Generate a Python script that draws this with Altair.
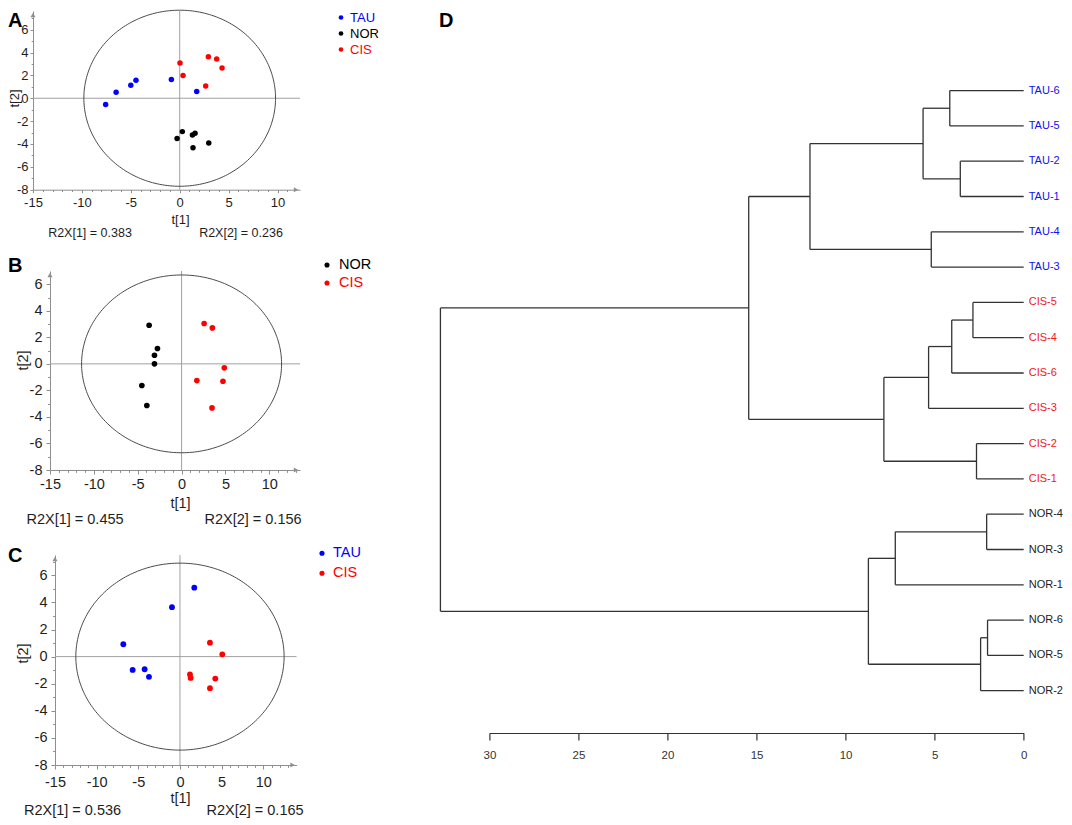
import altair as alt
import numpy as np
import pandas as pd

FONT = "Liberation Sans"
BLUE = "#0000ff"
RED = "#ff0000"
BLACK = "#000000"
GROUP_COLORS = {"TAU": BLUE, "NOR": BLACK, "CIS": RED}
AXIS_GRAY = "#8f8f8f"
CROSS_GRAY = "#a0a0a0"
INK = "#1e1e1e"

# ---------------- PCA score plots ----------------
# Panel A (TAU / NOR / CIS)
a_tau_t1 = [-7.57, -6.50, -5.00, -4.47, -0.85, 1.74]
a_tau_t2 = [-0.55, 0.52, 1.14, 1.57, 1.63, 0.58]
a_nor_t1 = [0.27, -0.27, 1.30, 1.57, 1.36, 2.97]
a_nor_t2 = [-2.92, -3.53, -3.21, -3.06, -4.34, -3.91]
a_cis_t1 = [0.03, 0.34, 2.93, 3.78, 4.33, 2.66]
a_cis_t2 = [3.09, 1.98, 3.62, 3.44, 2.65, 1.08]
a_ellipse = [9.8, 7.7]
a_r2x = ["0.383", "0.236"]

# Panel B (NOR / CIS)
b_nor_t1 = [-3.70, -2.75, -3.09, -3.09, -4.53, -3.96]
b_nor_t2 = [2.91, 1.16, 0.65, 0.00, -1.63, -3.14]
b_cis_t1 = [2.57, 3.51, 4.87, 1.74, 4.72, 3.47]
b_cis_t2 = [3.04, 2.71, -0.30, -1.26, -1.31, -3.32]
b_ellipse = [11.4, 6.7]
b_r2x = ["0.455", "0.156"]

# Panel C (TAU / CIS)
c_tau_t1 = [1.72, -0.96, -6.80, -5.68, -4.24, -3.72]
c_tau_t2 = [5.09, 3.65, 0.91, -0.98, -0.93, -1.49]
c_cis_t1 = [3.60, 5.08, 1.20, 1.28, 4.24, 3.60]
c_cis_t2 = [1.03, 0.17, -1.32, -1.57, -1.62, -2.33]
c_ellipse = [12.5, 6.9]
c_r2x = ["0.536", "0.165"]

# ---------------- Dendrogram (panel D) ----------------
leaves = ["TAU-6", "TAU-5", "TAU-2", "TAU-1", "TAU-4", "TAU-3",
          "CIS-5", "CIS-4", "CIS-6", "CIS-3", "CIS-2", "CIS-1",
          "NOR-4", "NOR-3", "NOR-1", "NOR-6", "NOR-5", "NOR-2"]
merge_left = ["TAU-6", "TAU-2", "m1", "TAU-4", "m3", "CIS-5", "m6", "m7", "CIS-2",
              "m8", "m5", "NOR-4", "m12", "NOR-6", "m14", "m13", "m11"]
merge_right = ["TAU-5", "TAU-1", "m2", "TAU-3", "m4", "CIS-4", "CIS-6", "CIS-3", "CIS-1",
               "m9", "m10", "NOR-3", "NOR-1", "NOR-5", "NOR-2", "m15", "m16"]
merge_height = [4.15, 3.56, 5.65, 5.19, 12.0, 2.85, 4.04, 5.34, 2.65,
                7.85, 15.44, 2.08, 7.21, 2.03, 2.42, 8.72, 32.75]
d_ticks = [30, 25, 20, 15, 10, 5, 0]


def score_panel(series, ell, r2x, lay):
    rows = [{"t1": float(a), "t2": float(b), "group": g}
            for g, xs, ys in series for a, b in zip(xs, ys)]
    pts = pd.DataFrame(rows)
    groups = [s[0] for s in series]
    xmax, ymax = lay["xmax"], lay["ymax"]
    fs = lay["fs"]
    xsc = alt.Scale(domain=[-15, xmax], range=lay["xr"], nice=False, zero=False)
    ysc = alt.Scale(domain=[-8, ymax], range=lay["yr"], nice=False, zero=False)
    xvals = [float(v) for v in np.arange(-15, xmax - 0.3, 1.0)]
    yvals = [float(v) for v in np.arange(-8, ymax - 0.3, 1.0)]
    common = dict(labelFont=FONT, labelFontSize=fs, labelColor=INK, domainColor=AXIS_GRAY,
                  tickColor=AXIS_GRAY, grid=False, labelOverlap=False, labelFlush=False,
                  titleFont=FONT, titleFontSize=fs, titleFontWeight="normal", titleColor=INK,
                  titleAlign="center", titleBaseline="middle")
    xaxis = alt.Axis(values=xvals,
                     labelExpr="datum.value % 5 === 0 ? '' + datum.value : ''",
                     tickSize={"condition": {"test": "datum.value % 5 === 0", "value": lay["tick"]},
                               "value": lay["tick"] * 0.6},
                     labelPadding=lay["xpad"], title="t[1]", titleX=lay["tx"], titleY=lay["ty"],
                     offset=lay["xoff"], **common)
    yaxis = alt.Axis(values=yvals,
                     labelExpr="datum.value % 2 === 0 && datum.value <= 6 ? '' + datum.value : ''",
                     tickSize={"condition": {"test": "datum.value % 2 === 0", "value": lay["tick"]},
                               "value": lay["tick"] * 0.6},
                     labelPadding=lay["ypad"], title="t[2]", titleX=lay["yx"], titleY=lay["yy"],
                     titleAngle=270, offset=lay["yoff"], **common)
    X = alt.X("t1:Q", scale=xsc, axis=xaxis)
    Y = alt.Y("t2:Q", scale=ysc, axis=yaxis)

    vline = pd.DataFrame({"t1": [0.0], "t2": [-8.0], "t2e": [float(ymax)]})
    hline = pd.DataFrame({"t1": [-15.0], "t1e": [float(xmax)], "t2": [0.0]})
    cross_v = alt.Chart(vline).mark_rule(color=CROSS_GRAY, strokeWidth=1).encode(
        x=X, y=Y, y2="t2e:Q")
    cross_h = alt.Chart(hline).mark_rule(color=CROSS_GRAY, strokeWidth=1).encode(
        x=X, x2="t1e:Q", y=Y)

    th = np.linspace(0, 2 * np.pi, 241)
    ell_df = pd.DataFrame({"t1": ell[0] * np.cos(th), "t2": ell[1] * np.sin(th),
                           "k": np.arange(len(th))})
    ell_layer = alt.Chart(ell_df).mark_line(color="#4a4a4a", strokeWidth=1).encode(
        x=X, y=Y, order="k:Q")

    pts_layer = alt.Chart(pts).mark_circle(size=lay["ms"], opacity=1).encode(
        x=X, y=Y,
        color=alt.Color("group:N", legend=None,
                        scale=alt.Scale(domain=groups, range=[GROUP_COLORS[g] for g in groups])))

    arr_up = alt.Chart(pd.DataFrame({"t1": [-15.0], "t2": [float(ymax)]})).mark_point(
        shape="triangle-up", filled=True, size=26, color=AXIS_GRAY, opacity=1, yOffset=4
    ).encode(x=X, y=Y)
    arr_right = alt.Chart(pd.DataFrame({"t1": [float(xmax)], "t2": [-8.0]})).mark_point(
        shape="triangle-right", filled=True, size=26, color=AXIS_GRAY, opacity=1, xOffset=-4
    ).encode(x=X, y=Y)

    layers = [cross_v, cross_h, ell_layer, arr_up, arr_right, pts_layer]

    for i, g in enumerate(groups):
        yy = lay["ly"] + i * lay["lstep"]
        gdf = pd.DataFrame({"g": [g]})
        layers.append(alt.Chart(gdf).mark_circle(size=lay["lms"], color=GROUP_COLORS[g], opacity=1)
                      .encode(x=alt.value(lay["ldx"]), y=alt.value(yy)))
        layers.append(alt.Chart(gdf).mark_text(align="left", baseline="middle", fontSize=lay["lfs"],
                                               font=FONT, color=GROUP_COLORS[g])
                      .encode(x=alt.value(lay["ltx"]), y=alt.value(yy), text="g:N"))

    layers.append(alt.Chart(pd.DataFrame({"s": [lay["letter"]]})).mark_text(
        align="left", baseline="middle", fontSize=20, fontWeight="bold", font=FONT, color="black"
    ).encode(x=alt.value(-25), y=alt.value(lay["lyl"]), text="s:N"))

    for j, (k, v) in enumerate(zip(["1", "2"], r2x)):
        layers.append(alt.Chart(pd.DataFrame({"s": [f"R2X[{k}] = {v}"]})).mark_text(
            align="center", baseline="middle", fontSize=lay["rfs"], font=FONT, color=INK
        ).encode(x=alt.value(lay["rx"][j]), y=alt.value(lay["ry"]), text="s:N"))

    return alt.layer(*layers).properties(width=267, height=lay["h"])


lay_a = dict(xmax=12.3, ymax=7.63, xr=[0, 267], yr=[178.7, 0], h=260, xoff=-81.3, yoff=0,
             fs=13, tick=3, xpad=4, ypad=2, tx=147, ty=30, yx=-18.5, yy=87,
             ldx=308, ltx=317, ly=6.5, lstep=16, lfs=13, lms=22,
             letter="A", lyl=10, rx=[57, 208], ry=222, rfs=12.5, ms=30)
lay_b = dict(xmax=13.5, ymax=7, xr=[17, 267], yr=[199, 0], h=283.7, xoff=-84.7, yoff=-17,
             fs=14.5, tick=4, xpad=3, ypad=4, tx=147, ty=33, yx=-27, yy=89,
             ldx=294, ltx=306, ly=-6, lstep=18, lfs=14.5, lms=26,
             letter="B", lyl=-5, rx=[42, 220], ry=249, rfs=14.5, ms=32)
lay_c = dict(xmax=14, ymax=7.5, xr=[22, 263.6], yr=[210, 0], h=210, xoff=0, yoff=-22,
             fs=14.5, tick=4, xpad=6, ypad=4, tx=147, ty=33, yx=-32, yy=98,
             ldx=289, ltx=300, ly=-1.7, lstep=20, lfs=14.5, lms=26,
             letter="C", lyl=1.3, rx=[39.5, 222], ry=256, rfs=14.5, ms=34)

panel_a = score_panel([("TAU", a_tau_t1, a_tau_t2), ("NOR", a_nor_t1, a_nor_t2),
                       ("CIS", a_cis_t1, a_cis_t2)], a_ellipse, a_r2x, lay_a)
panel_b = score_panel([("NOR", b_nor_t1, b_nor_t2), ("CIS", b_cis_t1, b_cis_t2)],
                      b_ellipse, b_r2x, lay_b)
panel_c = score_panel([("TAU", c_tau_t1, c_tau_t2), ("CIS", c_cis_t1, c_cis_t2)],
                      c_ellipse, c_r2x, lay_c)

# ---- dendrogram geometry from the merge table ----
nodes = {name: (0.0, float(i)) for i, name in enumerate(leaves)}
segs = []
for k, (l, r, h) in enumerate(zip(merge_left, merge_right, merge_height)):
    hl, pl = nodes[l]
    hr, pr = nodes[r]
    segs.append({"x": hl, "x2": h, "y": pl, "y2": pl})
    segs.append({"x": hr, "x2": h, "y": pr, "y2": pr})
    segs.append({"x": h, "x2": h, "y": pl, "y2": pr})
    nodes[f"m{k + 1}"] = (h, (pl + pr) / 2.0)
seg_df = pd.DataFrame(segs)

leaf_colors = {"TAU": "#1010f0", "CIS": "#f01818", "NOR": "#222222"}
leaf_df = pd.DataFrame({"leaf": leaves, "x": [0.0] * len(leaves),
                        "y": [float(i) for i in range(len(leaves))],
                        "col": [leaf_colors[n.split("-")[0]] for n in leaves]})

D_W, D_H = 534.3, 260
dxs = alt.Scale(domain=[0, 30], reverse=True, nice=False, zero=False)
dys = alt.Scale(domain=[-2.255, 18.198], range=[0, 722], nice=False, zero=False)
daxis = alt.Axis(values=d_ticks, tickSize=7, labelPadding=9, title=None, grid=False, offset=462,
                 domainColor="#333333", domainWidth=1.2, tickColor="#333333", tickWidth=1.2,
                 labelFont=FONT, labelFontSize=11.5, labelColor="#333333", labelFlush=False)

seg_layer = alt.Chart(seg_df).mark_rule(color="#333333", strokeWidth=1.3).encode(
    x=alt.X("x:Q", scale=dxs, axis=daxis), x2="x2:Q",
    y=alt.Y("y:Q", scale=dys, axis=None), y2="y2:Q")
lab_layer = alt.Chart(leaf_df).mark_text(align="left", baseline="middle", dx=5, fontSize=11,
                                         font=FONT).encode(
    x=alt.X("x:Q", scale=dxs, axis=daxis), y=alt.Y("y:Q", scale=dys, axis=None),
    text="leaf:N", color=alt.Color("col:N", scale=None))
d_letter = alt.Chart(pd.DataFrame({"s": ["D"]})).mark_text(
    align="left", baseline="middle", fontSize=20, fontWeight="bold", font=FONT, color="black"
).encode(x=alt.value(-50.4), y=alt.value(10), text="s:N")

panel_d = alt.layer(seg_layer, lab_layer, d_letter).properties(width=D_W, height=D_H)

spacer = alt.Chart(pd.DataFrame({"v": [0]})).mark_point(opacity=0).properties(width=1, height=1)

chart = alt.concat(panel_a, panel_d, panel_b, spacer, panel_c, columns=2,
                   spacing={"row": 0, "column": 189.4}, bounds="flush", align="each")
chart = chart.properties(padding=0).configure(font=FONT).configure_view(strokeWidth=0)

chart.save("out.html", embed_options={"renderer": "svg", "actions": False})
